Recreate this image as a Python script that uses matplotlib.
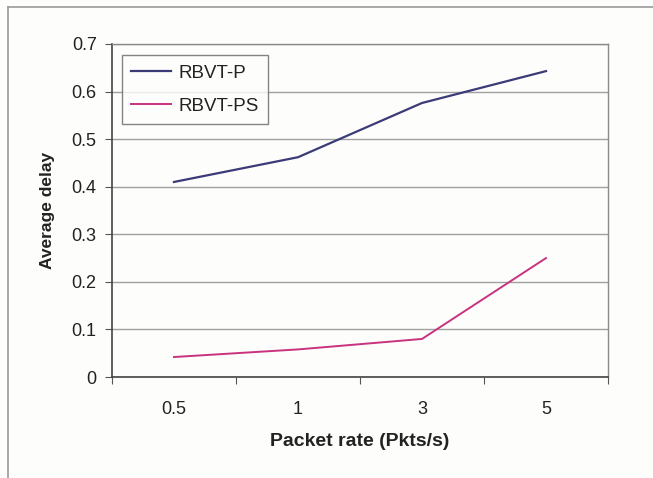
import numpy as np
import matplotlib
matplotlib.use("Agg")
import matplotlib.pyplot as plt
from matplotlib.lines import Line2D

plt.rcParams['font.family'] = ['Liberation Sans', 'DejaVu Sans']

# data
categories = ['0.5', '1', '3', '5']
rbvt_p = [0.41, 0.462, 0.576, 0.643]
rbvt_ps = [0.042, 0.058, 0.080, 0.250]
y_ticks = [0, 0.1, 0.2, 0.3, 0.4, 0.5, 0.6, 0.7]
y_labels = ['0', '0.1', '0.2', '0.3', '0.4', '0.5', '0.6', '0.7']

bg = '#fdfdfb'
fig = plt.figure(figsize=(6.53, 4.78), dpi=100, facecolor=bg)

# outer chart frame (top and left edges visible in the scan)
fig.add_artist(Line2D([8 / 653, 8 / 653], [0, 1 - 7 / 478], color='#9a9a9a', lw=1.2))
fig.add_artist(Line2D([8 / 653, 1], [1 - 7 / 478, 1 - 7 / 478], color='#9a9a9a', lw=1.2))

ax = fig.add_axes([112 / 653, 1 - 377 / 478, (608 - 112) / 653, (377 - 44) / 478])
ax.set_facecolor(bg)

x = np.arange(len(categories))
ax.plot(x, rbvt_p, color='#3b3b78', lw=1.6, label='RBVT-P')
ax.plot(x, rbvt_ps, color='#c8327f', lw=1.4, label='RBVT-PS')

ax.set_xlim(-0.5, len(categories) - 0.5)
ax.set_ylim(0, 0.7)

# category boundaries as tick marks, labels in the middle
ax.set_xticks(np.arange(-0.5, len(categories), 1.0))
ax.set_xticklabels([])
ax.set_xticks(x, minor=True)
ax.set_xticklabels(categories, minor=True, fontsize=13, color='#222222')
ax.tick_params(axis='x', which='minor', length=0, pad=17)
ax.tick_params(axis='x', which='major', length=5, direction='out', color='#555555')

ax.set_yticks(y_ticks)
ax.set_yticklabels(y_labels, fontsize=13, color='#222222')
ax.tick_params(axis='y', length=5, direction='out', color='#555555', pad=6)

ax.grid(axis='y', color='#a0a0a0', lw=1.0)
ax.set_axisbelow(True)

for side in ['top', 'right']:
    ax.spines[side].set_color('#8a8a8a')
    ax.spines[side].set_linewidth(1.0)
for side in ['left', 'bottom']:
    ax.spines[side].set_color('#444444')
    ax.spines[side].set_linewidth(1.2)

ax.set_ylabel('Average delay', fontsize=12.5, fontweight='bold', color='#222222', labelpad=12)
ax.set_xlabel('Packet rate (Pkts/s)', fontsize=14, fontweight='bold', color='#222222', labelpad=11)

leg = ax.legend(loc='upper left', bbox_to_anchor=(10 / 496, 1 - 11 / 333), fontsize=13.5,
                frameon=True, fancybox=False, handlelength=2.1, borderpad=0.5,
                labelspacing=0.85, handletextpad=0.4, borderaxespad=0)
leg.get_frame().set_edgecolor('#666666')
leg.get_frame().set_facecolor(bg)
leg.get_frame().set_linewidth(1.0)
for t in leg.get_texts():
    t.set_color('#222222')

fig.savefig('out.png', dpi=100, facecolor=bg)
